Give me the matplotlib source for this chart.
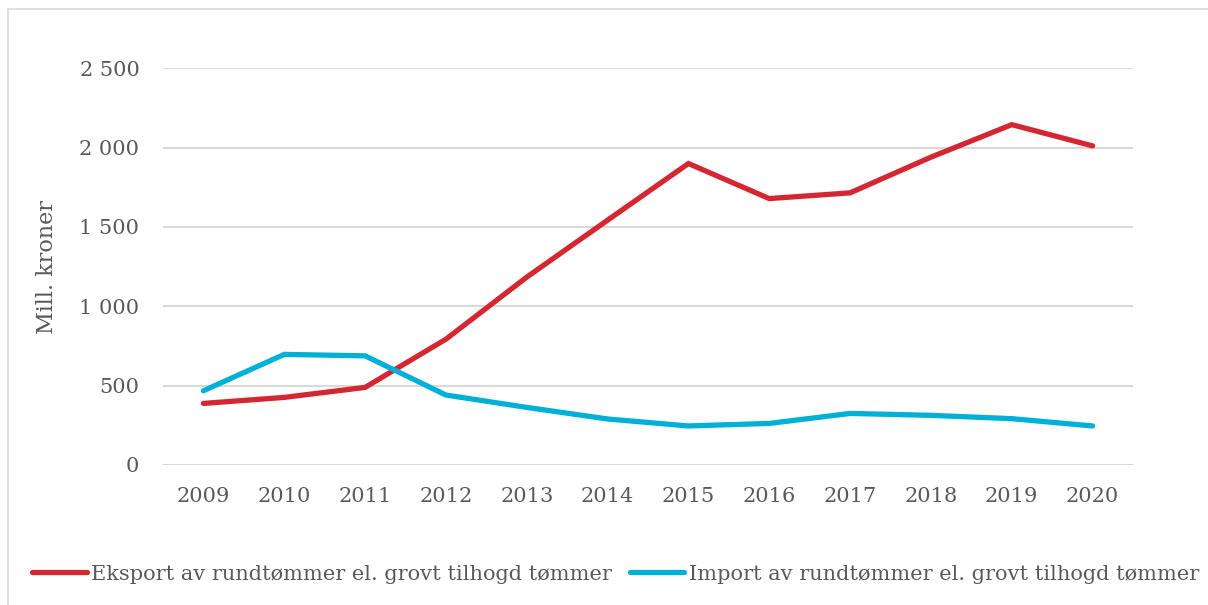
import matplotlib.pyplot as plt
from matplotlib.patches import Rectangle
from matplotlib.ticker import FuncFormatter, MultipleLocator

# Mill. kroner per year
years = [2009, 2010, 2011, 2012, 2013, 2014, 2015, 2016, 2017, 2018, 2019, 2020]
eksport = [388, 426, 489, 793, 1184, 1543, 1900, 1679, 1715, 1940, 2145, 2011]
importv = [468, 697, 688, 441, 363, 290, 246, 262, 325, 313, 292, 246]

labels = ["Eksport av rundtømmer el. grovt tilhogd tømmer",
          "Import av rundtømmer el. grovt tilhogd tømmer"]
colors = ["#D42731", "#00B0D6"]
text_col = "#595959"
grid_col = "#D9D9D9"

plt.rcParams['font.family'] = ['DejaVu Serif']

fig = plt.figure(figsize=(12.08, 6.05), dpi=100)
ax = fig.add_axes([163 / 1208, 1 - 465 / 605, (1133 - 163) / 1208, (465 - 68.3) / 605])

# outer chart frame (runs off the right and bottom edge)
fig.patches.append(Rectangle((8 / 1208, -0.05), 1.1, 0.05 + 1 - 9 / 605,
                             transform=fig.transFigure, fill=False,
                             edgecolor=grid_col, lw=1.2))

for vals, lab, c in zip([eksport, importv], labels, colors):
    ax.plot(years, vals, color=c, lw=3.8, label=lab,
            solid_capstyle='round', solid_joinstyle='miter')

ax.set_xlim(2008.5, 2020.5)
ax.set_ylim(0, 2500)
ax.yaxis.set_major_locator(MultipleLocator(500))
ax.yaxis.set_major_formatter(FuncFormatter(lambda v, p: f"{int(v):,}".replace(",", " ")))
ax.set_xticks(years)
ax.grid(axis='y', color=grid_col, lw=1.5)
ax.set_axisbelow(True)
for s in ax.spines.values():
    s.set_visible(False)
ax.tick_params(length=0, labelsize=15, colors=text_col)
ax.tick_params(axis='y', pad=17)
ax.tick_params(axis='x', pad=16)

ax.set_ylabel("Mill. kroner", fontsize=16, color=text_col, labelpad=15)

fig.legend(loc='lower left', bbox_to_anchor=(24 / 1208, 13 / 605), ncol=2,
           frameon=False, fontsize=15, handlelength=2.6, handletextpad=0.2,
           columnspacing=0.9, labelcolor=text_col, borderaxespad=0)

fig.savefig("out.png", dpi=100)
